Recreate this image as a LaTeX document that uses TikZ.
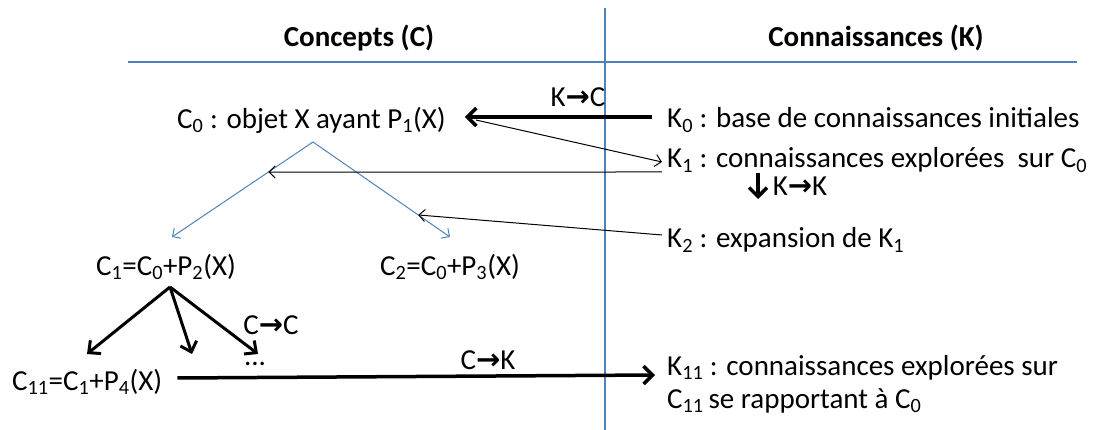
\documentclass[tikz,border=0pt]{standalone}
\usepackage{fontspec}
\setmainfont{Carlito}
\newfontfamily\arrowfont{DejaVu Sans}
\usetikzlibrary{arrows.meta,positioning}
\definecolor{offblue}{RGB}{79,129,189}
\newcommand{\ra}{{\arrowfont\bfseries\char"2192}}
\newcommand{\sub}[1]{\textsubscript{#1}}
\tikzset{
  txt/.style={inner sep=2pt,font=\fontsize{29}{33}\selectfont},
  hdr/.style={inner sep=2pt,font=\fontsize{29}{33}\selectfont\bfseries},
  rule/.style={offblue,line width=1.2pt},
  thickarr/.style={line width=3.5pt,-{Straight Barb[length=9pt,width=18pt]}},
  midarr/.style={line width=3pt,-{Straight Barb[length=9pt,width=17pt]}},
  thinarr/.style={line width=1pt,-{Straight Barb[length=6pt,width=12pt]}},
  bluearr/.style={offblue,line width=1pt,-{Straight Barb[length=6pt,width=12pt]}},
}
\begin{document}
\begin{tikzpicture}[x=1pt,y=-1pt]
\useasboundingbox (0,0) rectangle (1109,430);
% two columns
\draw[rule] (605,8) -- (605,430);
\draw[rule] (128,62) -- (1077,62);
\node[hdr] (hc) at (359,38) {Concepts (C)};
\node[hdr] (hk) at (876,38) {Connaissances (K)};
% concepts side
\node[txt,anchor=west] (c0) at (175,120) {C\sub{0} : objet X ayant P\sub{1}(X)};
\node[txt] (c1) at (166,267) {C\sub{1}=C\sub{0}+P\sub{2}(X)};
\node[txt] (c2) at (450,267) {C\sub{2}=C\sub{0}+P\sub{3}(X)};
\node[txt,anchor=west] (c11) at (10,382) {C\sub{11}=C\sub{1}+P\sub{4}(X)};
\node[txt] (dots) at (255,364) {...};
% knowledge side
\node[txt,anchor=west] (k0) at (665,120) {K\sub{0} : base de connaissances initiales};
\node[txt,anchor=west] (k1) at (665,160) {K\sub{1} : connaissances explorées \ sur C\sub{0}};
\node[txt,anchor=west] (k2) at (665,240) {K\sub{2} : expansion de K\sub{1}};
\node[txt,anchor=west,align=left] (k11) at (665,384)
  {K\sub{11} : connaissances explorées sur\\C\sub{11}\,se rapportant à C\sub{0}};
% operator labels
\node[txt] (kc) at (578,97) {K\ra C};
\node[txt] (kk) at (800,186) {K\ra K};
\node[txt] (cc) at (271,325) {C\ra C};
\node[txt] (ck) at (488,360) {C\ra K};
% C0 splits into C1 and C2
\coordinate (fork0) at (313,142);
\coordinate (fork1) at (170,287);
\draw[bluearr] (fork0) -- (172,237) coordinate[pos=0.316] (lb);
\draw[bluearr] (fork0) -- (450,237) coordinate[pos=0.768] (rb);
% C1 splits further
\draw[midarr] (fork1) -- (87,354);
\draw[midarr] (fork1) -- (192,354);
\draw[midarr] (fork1) -- (258,354);
% exchanges between C and K
\draw[thickarr] ([xshift=-13pt,yshift=3pt]k0.west) -- ([xshift=17pt,yshift=3pt]c0.east);
\draw[thinarr] ([xshift=28pt]c0.east) -- ([xshift=-3pt,yshift=-2pt]k1.west);
\draw[thinarr] ([xshift=-3pt,yshift=-12pt]k1.west) -- (lb);
\draw[thinarr] ([xshift=-3pt,yshift=5pt]k2.west) -- (rb);
\coordinate (kdown) at (758,173);
\draw[thickarr] (kdown) -- ++(0,26);
\draw[thickarr] ([xshift=13pt,yshift=4pt]c11.east) -- ([xshift=-10pt,yshift=9pt]k11.west);
\end{tikzpicture}
\end{document}
